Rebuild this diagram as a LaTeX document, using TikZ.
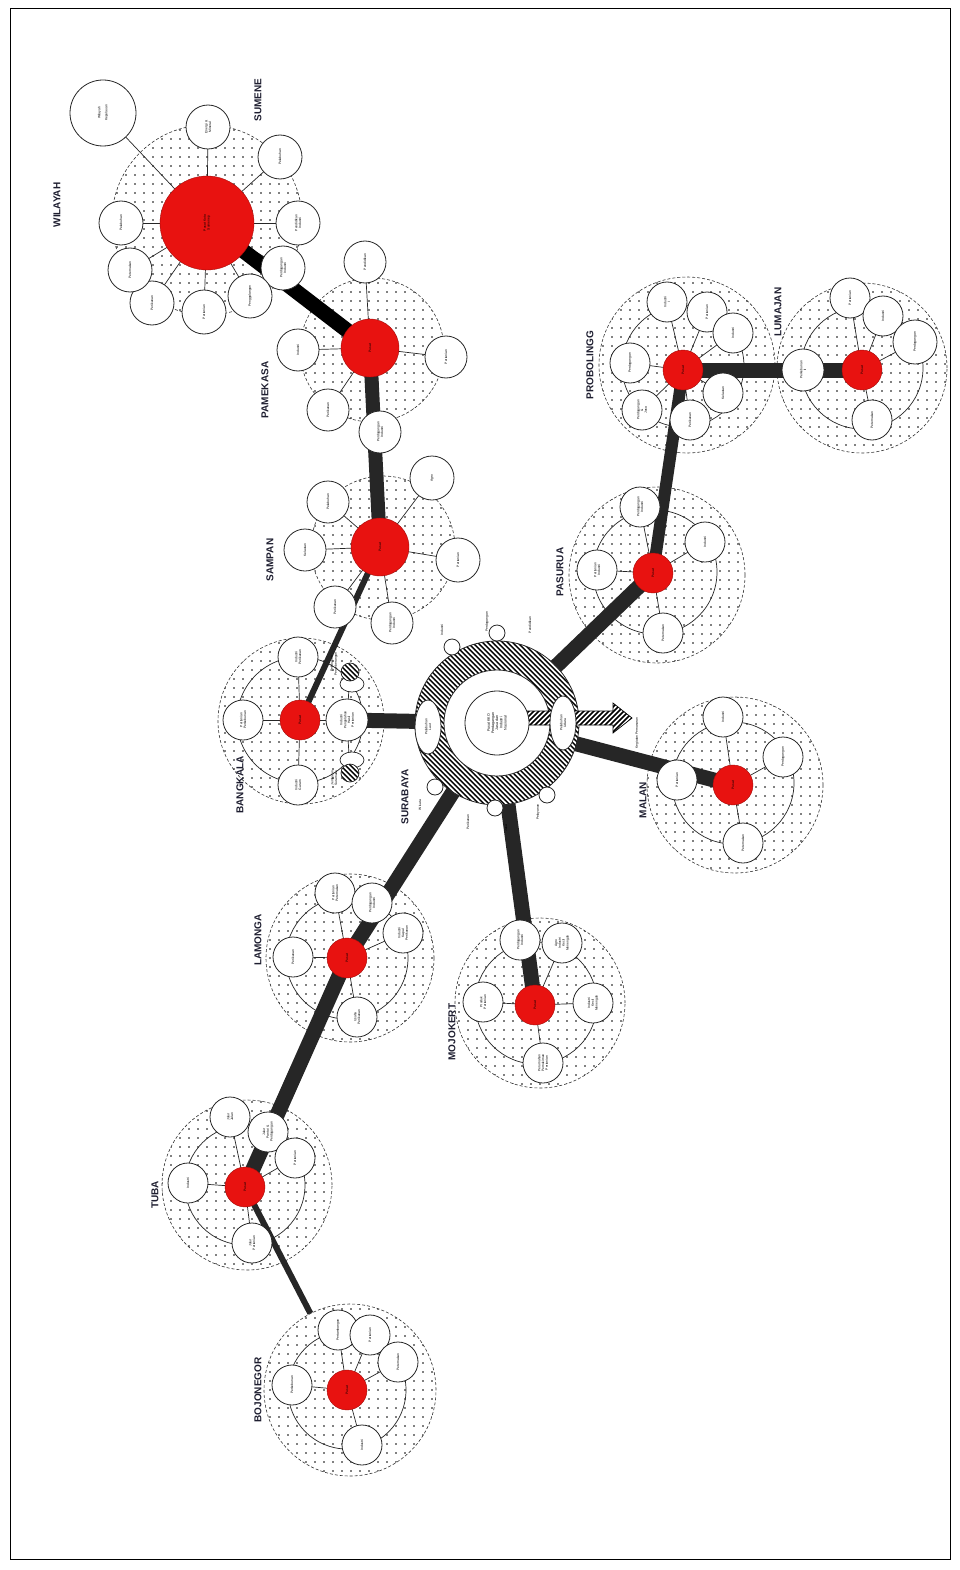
\documentclass[tikz,border=0pt]{standalone}
\usepackage{fontspec}
\setmainfont{Liberation Sans}
\usetikzlibrary{patterns,shapes.geometric}
\pgfdeclarelayer{regions}
\pgfdeclarelayer{conn}
\pgfsetlayers{regions,conn,main}
\pgfdeclarepatternformonly{sparsedots}{\pgfqpoint{-1pt}{-1pt}}{\pgfqpoint{1pt}{1pt}}{\pgfqpoint{9pt}{9pt}}{\pgfpathcircle{\pgfqpoint{0pt}{0pt}}{0.85pt}\pgfusepath{fill}}
\pgfdeclarepatternformonly{hatchnw}{\pgfqpoint{-1pt}{-1pt}}{\pgfqpoint{6pt}{6pt}}{\pgfqpoint{5pt}{5pt}}{\pgfsetlinewidth{1.4pt}\pgfpathmoveto{\pgfqpoint{-0.1pt}{5.1pt}}\pgfpathlineto{\pgfqpoint{5.1pt}{-0.1pt}}\pgfusepath{stroke}}
\pgfdeclarepatternformonly{hatchne}{\pgfqpoint{-1pt}{-1pt}}{\pgfqpoint{6pt}{6pt}}{\pgfqpoint{5pt}{5pt}}{\pgfsetlinewidth{1.6pt}\pgfpathmoveto{\pgfqpoint{-0.1pt}{-0.1pt}}\pgfpathlineto{\pgfqpoint{5.1pt}{5.1pt}}\pgfusepath{stroke}}
\definecolor{hubred}{RGB}{232,18,16}
\definecolor{roadc}{RGB}{38,38,38}
\definecolor{labelc}{RGB}{30,30,48}
\tikzset{
 region/.style={circle, draw=black!80, densely dashed, line width=0.6pt, preaction={fill=white}, pattern=sparsedots, inner sep=0pt},
 ringline/.style={circle, draw=black!85, line width=0.7pt, inner sep=0pt},
 sat/.style={circle, draw=black!85, fill=white, line width=0.8pt, minimum size=40pt, inner sep=0pt, font=\fontsize{3.3}{3.8}\selectfont, align=center, rotate=90},
 hub/.style={circle, draw=hubred!70!black, fill=hubred, line width=0.4pt, minimum size=40pt, inner sep=0pt, font=\fontsize{3.3}{3.8}\selectfont, align=center, rotate=90},
 city/.style={font=\fontsize{10}{12}\selectfont\bfseries, text=labelc, rotate=90},
 road/.style={draw=roadc, line width=15pt},
 spoke/.style={draw=black!85, line width=0.7pt},
 smalltext/.style={font=\fontsize{3.3}{3.8}\selectfont, align=center, rotate=90, inner sep=0pt},
 hatchdot/.style={circle, draw=black!85, line width=0.7pt, preaction={fill=white}, pattern=hatchnw, minimum size=18pt, inner sep=0pt},
}
\begin{document}
\begin{tikzpicture}[x=1pt,y=-1pt]
\useasboundingbox (0,0) rectangle (960,1570);
\draw[line width=0.8pt] (10,8) rectangle (950,1559);

% ---------------- regions ----------------
\begin{pgfonlayer}{regions}
\node[region, minimum size=190pt] (smO) at (207,220) {};
\node[region, minimum size=144pt] (pmO) at (372,350) {};
\node[region, minimum size=144pt] (spO) at (383,548) {};
\node[region, minimum size=166pt] (bkO) at (301,721) {};
\node[region, minimum size=176pt] (psO) at (657,575) {};
\node[region, minimum size=176pt] (pbO) at (687,365) {};
\node[region, minimum size=170pt] (lmO) at (862,368) {};
\node[region, minimum size=176pt] (mlO) at (735,785) {};
\node[region, minimum size=168pt] (laO) at (350,958) {};
\node[region, minimum size=170pt] (mjO) at (540,1003) {};
\node[region, minimum size=170pt] (tbO) at (247,1185) {};
\node[region, minimum size=172pt] (bjO) at (350,1390) {};
\node[ringline, minimum size=126pt] (bkI) at (300,720) {};
\node[ringline, minimum size=124pt] (psI) at (655,572) {};
\node[ringline, minimum size=122pt] (pbI) at (683,366) {};
\node[ringline, minimum size=122pt] (lmI) at (862,368) {};
\node[ringline, minimum size=122pt] (mlI) at (733,783) {};
\node[ringline, minimum size=122pt] (laI) at (347,958) {};
\node[ringline, minimum size=122pt] (mjI) at (536,1003) {};
\node[ringline, minimum size=120pt] (tbI) at (245,1185) {};
\node[ringline, minimum size=118pt] (bjI) at (347,1390) {};
\end{pgfonlayer}

% ---------------- labels ----------------
\node[city] (lWil) at (57,205) {WILAYAH};
\node[city] (lSm) at (258,100) {SUMENE};
\node[city] (lPm) at (265,390) {PAMEKASA};
\node[city] (lSp) at (270,560) {SAMPAN};
\node[city] (lBk) at (240,785) {BANGKALA};
\node[city] (lSb) at (405,797) {SURABAYA};
\node[city] (lPs) at (560,572) {PASURUA};
\node[city] (lPb) at (590,365) {PROBOLINGG};
\node[city] (lLm) at (778,312) {LUMAJAN};
\node[city] (lMl) at (643,800) {MALAN};
\node[city] (lLa) at (258,940) {LAMONGA};
\node[city] (lMj) at (452,1032) {MOJOKERT};
\node[city] (lTb) at (155,1195) {TUBA};
\node[city] (lBj) at (258,1390) {BOJONEGOR};

% ---------------- Sumenep ----------------
\node[sat, minimum size=66pt] (smW) at (103,113) {Wilayah\\[3pt]Kepulauan};
\node[sat, minimum size=44pt] (smS1) at (208,127) {Energi \&\\Mineral};
\node[sat, minimum size=44pt] (smS2) at (280,157) {Pelabuhan};
\node[sat, minimum size=44pt] (smS3) at (298,223) {Pendidikan\\Industri};
\node[sat, minimum size=44pt] (smS4) at (283,268) {Perdagangan\\Industri};
\node[sat, minimum size=44pt] (smS5) at (250,296) {Penggalangan};
\node[sat, minimum size=44pt] (smS6) at (204,312) {Pertanian};
\node[sat, minimum size=44pt] (smS7) at (152,303) {Perikanan};
\node[sat, minimum size=44pt] (smS8) at (130,270) {Peternakan};
\node[sat, minimum size=44pt] (smS9) at (121,223) {Pelabuhan};
\node[hub, minimum size=94pt] (smH) at (207,223) {Pusat Kota\\Sumenep};

% ---------------- Pamekasan ----------------
\node[sat, minimum size=42pt] (pmS1) at (365,262) {Pendidikan};
\node[sat, minimum size=42pt] (pmS2) at (446,357) {Pertanian};
\node[sat, minimum size=42pt] (pmS3) at (298,350) {Industri};
\node[sat, minimum size=42pt] (pmS4) at (328,410) {Perikanan};
\node[sat, minimum size=42pt] (pmS5) at (380,432) {Perdagangan\\Industri};
\node[hub, minimum size=58pt] (pmH) at (370,348) {Pusat};

% ---------------- Sampang ----------------
\node[sat, minimum size=42pt] (spS1) at (328,502) {Pelabuhan};
\node[sat, minimum size=42pt] (spS2) at (305,550) {Kelautan};
\node[sat, minimum size=44pt] (spS3) at (432,478) {Agro};
\node[sat, minimum size=44pt] (spS4) at (458,560) {Pertanian};
\node[sat, minimum size=42pt] (spS5) at (335,607) {Perikanan};
\node[sat, minimum size=42pt] (spS6) at (392,623) {Perdagangan\\Industri};
\node[hub, minimum size=58pt] (spH) at (380,547) {Pusat};

% ---------------- Bangkalan ----------------
\node[sat] (bkS1) at (298,657) {Industri\\Perikanan};
\node[sat] (bkS2) at (243,720) {Pertanian\\Perkebunan};
\node[sat] (bkS3) at (298,785) {Industri\\Garam};
\node[ellipse, draw=black!85, fill=white, line width=0.7pt, minimum width=24pt, minimum height=16pt, inner sep=0pt] (bkP1) at (352,684) {};
\node[ellipse, draw=black!85, fill=white, line width=0.7pt, minimum width=24pt, minimum height=16pt, inner sep=0pt] (bkP2) at (352,760) {};
\node[hatchdot] (bkD1) at (350,672) {};
\node[hatchdot] (bkD2) at (350,773) {};
\node[sat, minimum size=42pt] (bkR) at (347,720) {Industri\\Pengolahan\\Hasil\\Pertanian};
\node[smalltext] (bkT1) at (334,664) {Pelabuhan\\Penyeberangan};
\node[smalltext] (bkT2) at (334,778) {Jembatan\\Suramadu};
\node[hub] (bkH) at (300,720) {Pusat};

% ---------------- Surabaya ----------------
\node[circle, draw=black!85, line width=0.8pt, preaction={fill=white}, pattern=hatchnw, minimum size=164pt, inner sep=0pt] (sbO) at (497,723) {};
\node[circle, draw=black!85, fill=white, line width=0.8pt, minimum size=106pt, inner sep=0pt] (sbI) at (497,723) {};
\draw[line width=0.7pt, preaction={fill=white}, pattern=hatchne] (520,711) -- (613,711) -- (613,703) -- (632,718) -- (613,733) -- (613,725) -- (520,725) -- cycle;
\node[circle, draw=black!85, fill=white, line width=0.8pt, minimum size=64pt, inner sep=0pt, font=\fontsize{3.6}{4.2}\selectfont, align=center, rotate=90] (sbC) at (497,723) {Pusat KKO\\Perdagangan\\Jasa dan\\Industri\\Nasional};
\node[ellipse, draw=black!85, fill=white, line width=0.8pt, minimum width=54pt, minimum height=26pt, inner sep=0pt, font=\fontsize{3.3}{3.8}\selectfont, align=center, rotate=90] (sbL) at (428,727) {Pelabuhan\\Laut};
\node[ellipse, draw=black!85, fill=white, line width=0.8pt, minimum width=54pt, minimum height=26pt, inner sep=0pt, font=\fontsize{3.3}{3.8}\selectfont, align=center, rotate=90] (sbR) at (563,723) {Pelabuhan\\Udara};
\node[circle, draw=black!85, fill=white, line width=0.8pt, minimum size=16pt, inner sep=0pt] (sbK1) at (452,647) {};
\node[circle, draw=black!85, fill=white, line width=0.8pt, minimum size=16pt, inner sep=0pt] (sbK2) at (497,633) {};
\node[circle, draw=black!85, fill=white, line width=0.8pt, minimum size=16pt, inner sep=0pt] (sbK3) at (435,787) {};
\node[circle, draw=black!85, fill=white, line width=0.8pt, minimum size=16pt, inner sep=0pt] (sbK4) at (495,808) {};
\node[circle, draw=black!85, fill=white, line width=0.8pt, minimum size=16pt, inner sep=0pt] (sbK5) at (547,795) {};
\node[smalltext] (sbT1) at (442,630) {Industri};
\node[smalltext] (sbT2) at (487,622) {Perdagangan};
\node[smalltext] (sbT3) at (530,625) {Pendidikan};
\node[smalltext] (sbT4) at (420,805) {Wisata};
\node[smalltext] (sbT5) at (468,822) {Perikanan};
\node[smalltext] (sbT6) at (506,828) {Jasa};
\node[smalltext] (sbT7) at (538,812) {Pelayanan};
\node[smalltext] (sbT8) at (637,733) {Kegiatan Pemasaran};

% ---------------- Pasuruan ----------------
\node[sat] (psS1) at (640,507) {Perdagangan\\Industri};
\node[sat] (psS2) at (705,542) {Industri};
\node[sat] (psS3) at (597,570) {Pertanian\\Industri};
\node[sat] (psS4) at (663,633) {Peternakan};
\node[hub] (psH) at (653,573) {Pusat};

% ---------------- Probolinggo ----------------
\node[sat] (pbS1) at (667,302) {Industri\\I};
\node[sat] (pbS2) at (707,312) {Pertanian};
\node[sat] (pbS3) at (733,333) {Industri};
\node[sat] (pbS4) at (630,363) {Perdagangan};
\node[sat] (pbS5) at (642,410) {Perdagangan\\\&\\Jasa};
\node[sat] (pbS6) at (690,420) {Perikanan};
\node[sat] (pbS7) at (723,393) {Kelautan};
\node[hub] (pbH) at (683,370) {Pusat};

% ---------------- Lumajang ----------------
\node[sat, minimum size=42pt] (lmS1) at (803,370) {Perkebunan\\II};
\node[sat] (lmS2) at (850,298) {Pertanian};
\node[sat] (lmS3) at (883,316) {Industri};
\node[sat, minimum size=44pt] (lmS4) at (915,342) {Perdagangan};
\node[sat] (lmS5) at (872,420) {Peternakan};
\node[hub] (lmH) at (862,370) {Pusat};

% ---------------- Malang ----------------
\node[sat] (mlS1) at (723,717) {Industri};
\node[sat] (mlS2) at (783,757) {Perdagangan};
\node[sat] (mlS3) at (677,780) {Pertanian};
\node[sat] (mlS4) at (743,843) {Peternakan};
\node[hub] (mlH) at (733,785) {Pusat};

% ---------------- Lamongan ----------------
\node[sat] (laS1) at (335,893) {Pertanian\\Peternakan};
\node[sat] (laS2) at (372,903) {Perdagangan\\Industri};
\node[sat] (laS3) at (403,933) {Industri\\Kapal\\Perikanan};
\node[sat] (laS4) at (293,957) {Perikanan};
\node[sat] (laS5) at (357,1017) {Usaha\\Perikanan};
\node[hub] (laH) at (347,958) {Pusat};

% ---------------- Mojokerto ----------------
\node[sat] (mjS1) at (520,940) {Perdagangan\\Industri};
\node[sat] (mjS2) at (562,943) {Agro\\Industri\\Kecil\\Menengah};
\node[sat] (mjS3) at (593,1003) {Industri\\Kecil\\Menengah};
\node[sat] (mjS4) at (483,1002) {Produk\\Pertanian};
\node[sat] (mjS5) at (543,1063) {Perumahan\\Pemukiman\\Pertanian};
\node[hub] (mjH) at (535,1005) {Pusat};

% ---------------- Tuban ----------------
\node[sat] (tbS1) at (230,1117) {Jalur\\Jalan};
\node[sat] (tbS2) at (268,1132) {Jalur\\Pantai \&\\Perdagangan};
\node[sat] (tbS3) at (295,1158) {Pertanian};
\node[sat] (tbS4) at (188,1183) {Industri};
\node[sat] (tbS5) at (252,1243) {Jalur\\Pertanian};
\node[hub] (tbH) at (245,1187) {Pusat};

% ---------------- Bojonegoro ----------------
\node[sat] (bjS1) at (338,1330) {Pertambangan};
\node[sat] (bjS2) at (370,1335) {Pertanian};
\node[sat] (bjS3) at (398,1362) {Peternakan};
\node[sat] (bjS4) at (292,1385) {Perkebunan};
\node[sat] (bjS5) at (362,1445) {Industri};
\node[hub] (bjH) at (347,1390) {Pusat};

% ---------------- connectors ----------------
\begin{pgfonlayer}{conn}
\foreach \s in {smW,smS1,smS2,smS3,smS4,smS5,smS6,smS7,smS8,smS9} \draw[spoke] (smH.center) -- (\s.center);
\foreach \s in {pmS1,pmS2,pmS3,pmS4,pmS5} \draw[spoke] (pmH.center) -- (\s.center);
\foreach \s in {spS1,spS2,spS3,spS4,spS5,spS6} \draw[spoke] (spH.center) -- (\s.center);
\foreach \s in {bkS1,bkS2,bkS3,bkR} \draw[spoke] (bkH.center) -- (\s.center);
\draw[spoke] (bkD1.center) -- (bkR.center) -- (bkD2.center);
\foreach \s in {psS1,psS2,psS3,psS4} \draw[spoke] (psH.center) -- (\s.center);
\foreach \s in {pbS1,pbS2,pbS3,pbS4,pbS5,pbS6,pbS7} \draw[spoke] (pbH.center) -- (\s.center);
\foreach \s in {lmS1,lmS2,lmS3,lmS4,lmS5} \draw[spoke] (lmH.center) -- (\s.center);
\foreach \s in {mlS1,mlS2,mlS3,mlS4} \draw[spoke] (mlH.center) -- (\s.center);
\foreach \s in {laS1,laS2,laS3,laS4,laS5} \draw[spoke] (laH.center) -- (\s.center);
\foreach \s in {mjS1,mjS2,mjS3,mjS4,mjS5} \draw[spoke] (mjH.center) -- (\s.center);
\foreach \s in {tbS1,tbS2,tbS3,tbS4,tbS5} \draw[spoke] (tbH.center) -- (\s.center);
\foreach \s in {bjS1,bjS2,bjS3,bjS4,bjS5} \draw[spoke] (bjH.center) -- (\s.center);
\draw[road, draw=black] (smH.center) -- (pmH.center);
\draw[road, line width=14pt] (pmH.center) -- (spH.center);
\draw[road, line width=6pt] (spH.center) -- (bkH.center);
\draw[road] (bkR.center) -- (sbO.center);
\draw[road] (sbO.center) -- (psH.center);
\draw[road, line width=12pt] (psH.center) -- (pbH.center);
\draw[road] (pbH.center) -- (lmH.center);
\draw[road] (sbO.center) -- (mlH.center);
\draw[road] (sbO.center) -- (mjH.center);
\draw[road] (sbO.center) -- (laH.center);
\draw[road] (laH.center) -- (tbH.center);
\draw[road, line width=6pt] (tbH.center) -- (bjO);
\end{pgfonlayer}
\end{tikzpicture}
\end{document}
